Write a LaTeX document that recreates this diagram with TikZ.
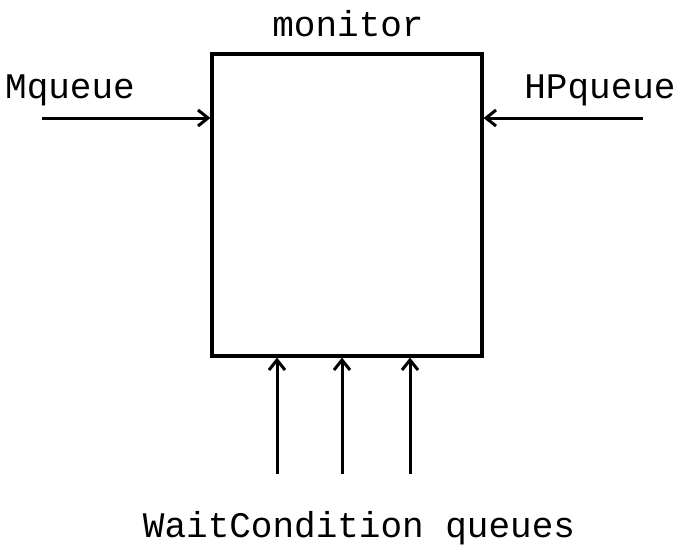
\documentclass[tikz,border=0pt]{standalone}
\usepackage{fontspec}
\setmonofont{Liberation Mono}
\usetikzlibrary{arrows.meta,positioning}

\begin{document}
\begin{tikzpicture}[
  x=0.5pt,y=-0.5pt,
  lbl/.style={font=\ttfamily\fontsize{18}{20}\selectfont,inner sep=0pt},
  arr/.style={-{Straight Barb[length=5pt,width=8pt]},line width=1.5pt}
]
\useasboundingbox (0,0) rectangle (685,553);
\node[draw,line width=1.6pt,minimum width=135pt,minimum height=151pt,inner sep=0pt] (monitor) at (347,205) {};
\node[lbl] (mname) at (348,24) {monitor};
\node[lbl] (mq) at (70,90) {Mqueue};
\node[lbl] (hpq) at (600,90) {HPqueue};
\node[lbl] (wcq) at (359,528) {WaitCondition queues};
% inputs
\coordinate (mqs) at (42,118);
\coordinate (hps) at (643,118);
\draw[arr] (mqs) -- (mqs -| monitor.west);
\draw[arr] (hps) -- (hps -| monitor.east);
\foreach \x/\n in {277/a,342/b,410/c}{
  \coordinate (w\n) at (\x,474);
  \draw[arr] (w\n) -- (w\n |- monitor.south);
}
\end{tikzpicture}
\end{document}
